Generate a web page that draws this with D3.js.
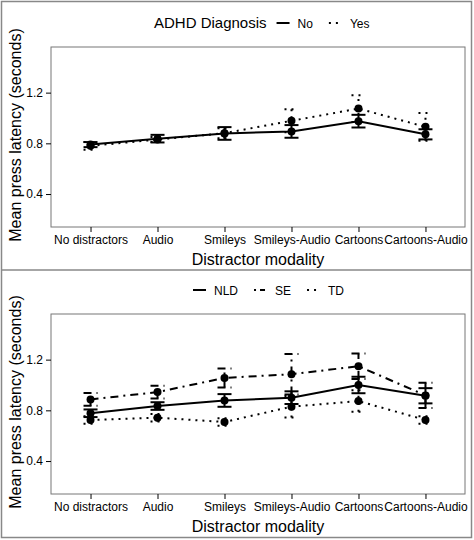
<!DOCTYPE html>
<html><head><meta charset="utf-8">
<script src="https://cdn.jsdelivr.net/npm/d3@7"></script>
<style>body{margin:0;background:#fff}text{font-family:"Liberation Sans",Arial,sans-serif}</style>
</head><body><svg id="c" width="474" height="540"></svg>
<script>
// categories and values
var categories = ["No distractors", "Audio", "Smileys", "Smileys-Audio", "Cartoons", "Cartoons-Audio"];
var yTicks = [0.4, 0.8, 1.2];

var adhdNo = [0.79, 0.837, 0.878, 0.894, 0.975, 0.871];
var adhdNoErr = [0.02, 0.03, 0.05, 0.05, 0.05, 0.04];
var adhdYes = [0.78, 0.83, 0.88, 0.978, 1.074, 0.93];
var adhdYesErr = [0.03, 0.02, 0.04, 0.09, 0.105, 0.11];

var nld = [0.777, 0.834, 0.878, 0.9, 1.0, 0.915];
var nldErr = [0.03, 0.03, 0.05, 0.05, 0.065, 0.06];
var se = [0.886, 0.944, 1.056, 1.085, 1.148, 0.918];
var seErr = [0.05, 0.05, 0.075, 0.16, 0.1, 0.1];
var td = [0.724, 0.742, 0.708, 0.829, 0.873, 0.724];
var tdErr = [0.03, 0.03, 0.03, 0.085, 0.085, 0.03];

var svg = d3.select("#c");
var dashes = {solid: null, dot: "2,5", dashdot: "8,5,2,5"};

// outer frame + divider
svg.append("rect").attr("x", 1.5).attr("y", 1.5).attr("width", 470).attr("height", 536)
    .attr("fill", "none").attr("stroke", "#888").attr("stroke-width", 1.5);
svg.append("line").attr("x1", 1).attr("x2", 472).attr("y1", 270).attr("y2", 270)
    .attr("stroke", "#888").attr("stroke-width", 1.5);

function panel(top, legendTitle, legendX, series) {
    var x = d3.scalePoint().domain(categories).range([51, 465]).padding(0.59);
    var y = d3.scaleLinear().domain([0.14, 1.56]).range([top + 180, top]);
    var g = svg.append("g");

    g.append("rect").attr("x", 51).attr("y", top).attr("width", 414).attr("height", 180)
        .attr("fill", "none").attr("stroke", "#777").attr("stroke-width", 1);

    var xa = g.append("g").attr("transform", "translate(0," + (top + 180) + ")")
        .call(d3.axisBottom(x).tickSize(5).tickPadding(3));
    xa.select(".domain").remove();
    xa.selectAll("text").attr("font-size", "12px").attr("fill", "#000");
    var ya = g.append("g").attr("transform", "translate(51,0)")
        .call(d3.axisLeft(y).tickValues(yTicks).tickFormat(d3.format(".1f")).tickSize(5).tickPadding(3));
    ya.select(".domain").remove();
    ya.selectAll("text").attr("font-size", "12px").attr("fill", "#000");

    g.append("text").attr("x", 258).attr("y", top + 218).attr("text-anchor", "middle")
        .attr("font-size", "16px").text("Distractor modality");
    g.append("text").attr("transform", "translate(21," + (top + 88) + ") rotate(-90)")
        .attr("text-anchor", "middle").attr("font-size", "16px").text("Mean press latency (seconds)");

    series.forEach(function (s) {
        var pts = s.values.map(function (v, i) { return {c: categories[i], v: v, e: s.err[i]}; });
        g.append("path").datum(pts)
            .attr("d", d3.line().x(function (d) { return x(d.c); }).y(function (d) { return y(d.v); }))
            .attr("fill", "none").attr("stroke", "#000").attr("stroke-width", 2)
            .attr("stroke-dasharray", dashes[s.style]);
        var eb = g.append("g").selectAll("g").data(pts).enter().append("g");
        eb.append("line").attr("x1", function (d) { return x(d.c); }).attr("x2", function (d) { return x(d.c); })
            .attr("y1", function (d) { return y(d.v - d.e); }).attr("y2", function (d) { return y(d.v + d.e); })
            .attr("stroke", "#000").attr("stroke-width", 2).attr("stroke-dasharray", dashes[s.style]);
        [-1, 1].forEach(function (sg) {
            eb.append("line").attr("x1", function (d) { return x(d.c) - 7; }).attr("x2", function (d) { return x(d.c) + 7; })
                .attr("y1", function (d) { return y(d.v + sg * d.e); }).attr("y2", function (d) { return y(d.v + sg * d.e); })
                .attr("stroke", "#000").attr("stroke-width", 2).attr("stroke-dasharray", dashes[s.style]);
        });
        g.append("g").selectAll("circle").data(pts).enter().append("circle")
            .attr("cx", function (d) { return x(d.c); }).attr("cy", function (d) { return y(d.v); })
            .attr("r", 4).attr("fill", "#000");
    });

    // legend
    var lx = legendX, ly = top - 24;
    if (legendTitle) {
        var t = g.append("text").attr("x", lx).attr("y", ly + 5).attr("font-size", "15px").text(legendTitle);
        lx += t.node().getComputedTextLength() + 10;
    }
    series.forEach(function (s) {
        g.append("line").attr("x1", lx).attr("x2", lx + 13).attr("y1", ly).attr("y2", ly)
            .attr("stroke", "#000").attr("stroke-width", 2).attr("stroke-dasharray", s.style === "solid" ? null : (s.style === "dot" ? "2,5" : "2,4,5,3"));
        var t2 = g.append("text").attr("x", lx + 21).attr("y", ly + 4.5).attr("font-size", "12px").text(s.name);
        lx += 21 + t2.node().getComputedTextLength() + 16;
    });
}

panel(47, "ADHD Diagnosis", 154, [
    {name: "No", values: adhdNo, err: adhdNoErr, style: "solid"},
    {name: "Yes", values: adhdYes, err: adhdYesErr, style: "dot"}
]);
panel(314, null, 193, [
    {name: "NLD", values: nld, err: nldErr, style: "solid"},
    {name: "SE", values: se, err: seErr, style: "dashdot"},
    {name: "TD", values: td, err: tdErr, style: "dot"}
]);
</script></body></html>
